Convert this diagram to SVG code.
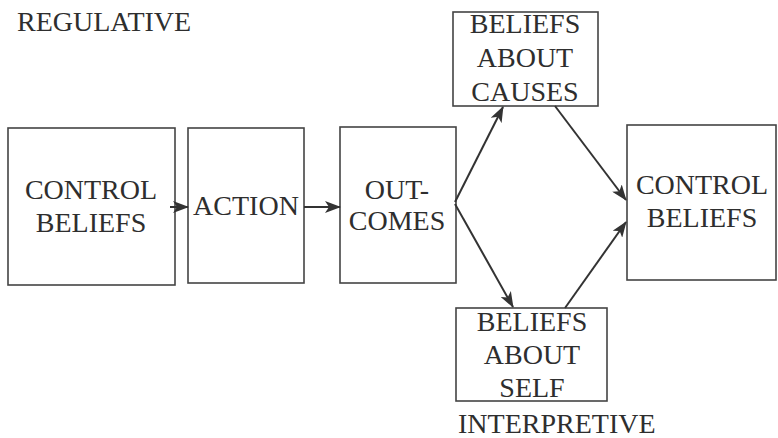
<svg xmlns="http://www.w3.org/2000/svg" width="778" height="438" viewBox="0 0 778 438">
<defs>
<marker id="ah" viewBox="0 0 16 12" refX="15" refY="6" markerWidth="16" markerHeight="12" markerUnits="userSpaceOnUse" orient="auto">
<path d="M0,0 L16,6 L0,12 L4,6 Z" fill="#333"/>
</marker>
</defs>
<style>
.box{fill:#fff;stroke:#444;stroke-width:1.6}
text{font-family:'Liberation Serif','Times New Roman',serif;font-size:28px;fill:#2e2e2e}
.mid{text-anchor:middle}
.c{stroke:#333;stroke-width:2;fill:none;marker-end:url(#ah)}
</style>
<rect width="778" height="438" fill="#fff"/>
<text x="17" y="31">REGULATIVE</text>
<text x="458" y="433">INTERPRETIVE</text>
<g id="control1">
<rect class="box" x="8" y="128" width="167" height="157"/>
<text class="mid" x="91" y="199">CONTROL</text>
<text class="mid" x="91" y="232">BELIEFS</text>
</g>
<g id="action">
<rect class="box" x="188" y="128" width="116" height="155"/>
<text class="mid" x="246" y="215">ACTION</text>
</g>
<g id="outcomes">
<rect class="box" x="340" y="127" width="116" height="156"/>
<text class="mid" x="397" y="199">OUT-</text>
<text class="mid" x="397" y="230">COMES</text>
</g>
<g id="causes">
<rect class="box" x="453" y="12" width="145" height="94"/>
<text class="mid" x="525" y="33">BELIEFS</text>
<text class="mid" x="525" y="67">ABOUT</text>
<text class="mid" x="525" y="101">CAUSES</text>
</g>
<g id="self">
<rect class="box" x="456" y="308" width="151" height="93"/>
<text class="mid" x="532" y="331">BELIEFS</text>
<text class="mid" x="532" y="364">ABOUT</text>
<text class="mid" x="532" y="397">SELF</text>
</g>
<g id="control2">
<rect class="box" x="627" y="125" width="149" height="155"/>
<text class="mid" x="702" y="194">CONTROL</text>
<text class="mid" x="702" y="227">BELIEFS</text>
</g>
<g id="connectors">
<line class="c" x1="170" y1="207" x2="188" y2="207"/>
<line class="c" x1="304" y1="207" x2="340" y2="207"/>
<line class="c" x1="455" y1="202" x2="503" y2="107"/>
<line class="c" x1="455" y1="204" x2="513" y2="307"/>
<line class="c" x1="555" y1="106" x2="626" y2="200"/>
<line class="c" x1="565" y1="308" x2="626" y2="222"/>
</g>
</svg>
